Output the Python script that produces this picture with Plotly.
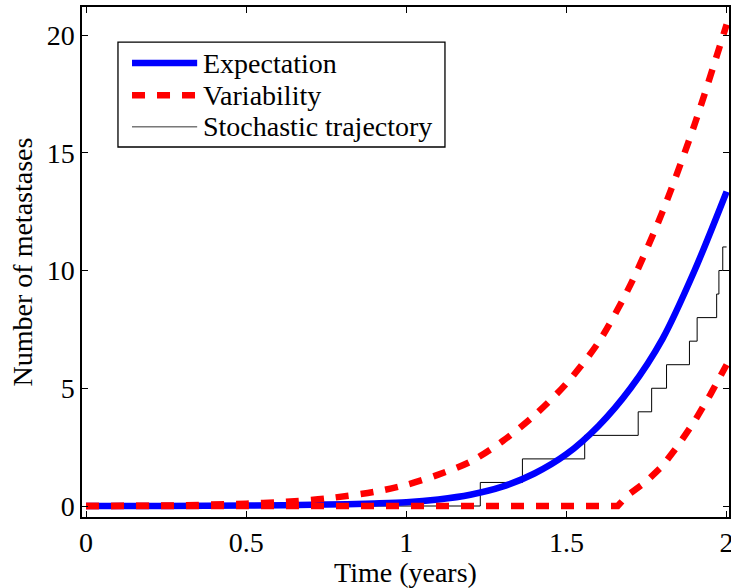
import plotly.graph_objects as go

# Expectation (mean number of metastases)
t_mean = [0, 0.25, 0.5, 0.75, 0.9, 1.0, 1.1, 1.2, 1.3, 1.4, 1.5, 1.6, 1.7, 1.8, 1.9, 2.0]
y_mean = [0, 0.003, 0.02, 0.06, 0.11, 0.16, 0.28, 0.48, 0.82, 1.38, 2.2, 3.4, 5.0, 7.1, 10.0, 13.35]

# Variability: upper band
t_upper = [0, 0.25, 0.5, 0.625, 0.75, 0.9, 1.0, 1.1, 1.2, 1.3, 1.4, 1.5, 1.6, 1.7, 1.8, 1.9, 2.0]
y_upper = [0, 0.02, 0.1, 0.18, 0.32, 0.6, 0.9, 1.33, 1.88, 2.75, 3.85, 5.2, 6.95, 9.4, 12.5, 16.2, 20.45]

# Variability: lower band
t_lower = [0, 1.66, 1.68, 1.7, 1.75, 1.8, 1.85, 1.9, 1.95, 2.0]
y_lower = [0, 0, 0.3, 0.55, 1.05, 1.7, 2.6, 3.6, 4.75, 6.0]

# Stochastic trajectory (jump times and counts)
t_traj = [0, 1.231, 1.3625, 1.557, 1.724, 1.766, 1.8125, 1.884, 1.908, 1.969, 1.976, 1.988, 2.0]
y_traj = [0, 1, 2, 3, 4, 5, 6, 7, 8, 9, 10, 11, 11]

x_ticks = [0, 0.5, 1, 1.5, 2]
x_ticklabels = ["0", "0.5", "1", "1.5", "2"]
y_ticks = [0, 5, 10, 15, 20]

legend_names = ["Expectation", "Variability", "Stochastic trajectory"]

FONT = "Liberation Serif, Times New Roman, serif"
FS = 28
BLUE = "#0000ff"
RED = "#ff0000"
DASH = "13px,12px"

fig = go.Figure()
fig.add_trace(go.Scatter(x=t_traj, y=y_traj, mode="lines", line=dict(color="black", width=1, shape="hv"),
                         name=legend_names[2], showlegend=False))
fig.add_trace(go.Scatter(x=t_mean, y=y_mean, mode="lines", line=dict(color=BLUE, width=6.5, shape="spline", smoothing=0.8),
                         name=legend_names[0], showlegend=False))
fig.add_trace(go.Scatter(x=t_upper, y=y_upper, mode="lines", line=dict(color=RED, width=6.5, dash=DASH, shape="spline", smoothing=0.8),
                         name=legend_names[1], showlegend=False))
fig.add_trace(go.Scatter(x=t_lower, y=y_lower, mode="lines", line=dict(color=RED, width=6.5, dash=DASH, shape="linear"),
                         name=legend_names[1], showlegend=False))

# manual legend (paper coordinates)
shapes = [dict(type="rect", xref="paper", yref="paper", x0=0.0556, x1=0.561, y0=0.7255, y1=0.931,
               line=dict(color="black", width=1.3), fillcolor="white", layer="above")]
rows = [0.890, 0.827, 0.765]
styles = [dict(color=BLUE, width=6.5), dict(color=RED, width=6.5, dash=DASH), dict(color="#333333", width=1)]
annotations = []
for name, yy, st in zip(legend_names, rows, styles):
    shapes.append(dict(type="line", xref="paper", yref="paper", x0=0.0773, x1=0.178, y0=yy, y1=yy,
                       line=st, layer="above"))
    annotations.append(dict(xref="paper", yref="paper", x=0.1845, y=yy, text=name, showarrow=False,
                            xanchor="left", yanchor="middle", font=dict(family=FONT, size=FS, color="black")))

fig.update_layout(
    width=731, height=588,
    margin=dict(l=82, r=2, t=7, b=71, autoexpand=False),
    paper_bgcolor="white", plot_bgcolor="white",
    font=dict(family=FONT, size=FS, color="black"),
    shapes=shapes, annotations=annotations,
    showlegend=False,
)
fig.update_xaxes(range=[-0.0125, 2.0075], tickvals=x_ticks, ticktext=x_ticklabels,
                 ticks="inside", ticklen=6, tickwidth=1, tickcolor="black",
                 showline=True, linecolor="black", linewidth=1.5, mirror="ticks",
                 showgrid=False, zeroline=False, ticklabeloverflow="allow", automargin=False,
                 title=dict(text="Time (years)", standoff=0, font=dict(size=FS)))
fig.update_yaxes(range=[-0.467, 21.19], tickvals=y_ticks,
                 ticks="inside", ticklen=6, tickwidth=1, tickcolor="black",
                 showline=True, linecolor="black", linewidth=1.5, mirror="ticks",
                 showgrid=False, zeroline=False, automargin=False,
                 title=dict(text="Number of metastases", standoff=6, font=dict(size=FS)))

fig.write_html("out.html")
